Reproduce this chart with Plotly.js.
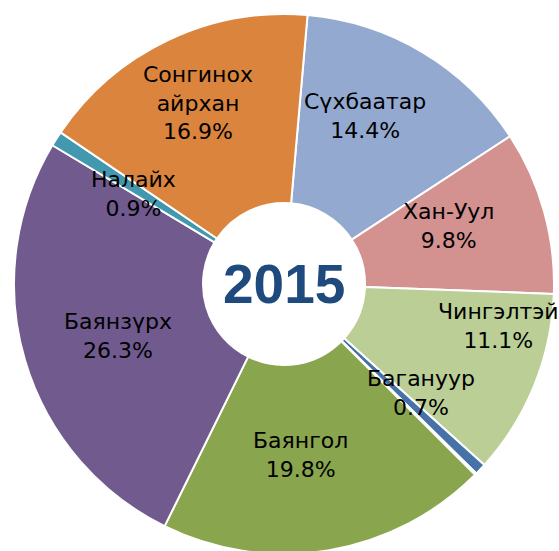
<!DOCTYPE html>
<html>
<head>
<meta charset="utf-8">
<script src="https://cdn.plot.ly/plotly-3.0.1.min.js"></script>
<style>
html, body { margin: 0; padding: 0; overflow: hidden; background: #ffffff; }
#chart { width: 559px; height: 556px; }
</style>
</head>
<body>
<div id="chart"></div>
<script>
// Districts of Ulaanbaatar, share in 2015 (%)
const labels = ["Сүхбаатар", "Хан-Уул", "Чингэлтэй", "Багануур", "Багахангай", "Баянгол", "Баянзүрх", "Налайх", "Сонгинох<br>айрхан"];
const values = [14.4, 9.8, 11.1, 0.7, 0.1, 19.8, 26.3, 0.9, 16.9];
const sliceColors = ["#94A9D0", "#D39190", "#BACE96", "#4672A8", "#C0504D", "#89A54E", "#705A8E", "#4198AF", "#DA843E"];
const centerLabel = "2015";

// label placement (style only): shown?, angular nudge from slice middle (deg), radius as fraction of pie radius
const labelShown  = [true, true, true, true, false, true, true, true, true];
const labelNudge  = [-5.0, -3.8, -11.0, -4.9, 0, 4.0, -1.1, -1.8, 0];
const labelRadius = [0.69, 0.645, 0.81, 0.65, 0.65, 0.636, 0.645, 0.65, 0.743];

const rotationDeg = 5;
const holeFrac = 0.3;
const W = 559, H = 556;
const M = {l: 14, r: 5, t: 14, b: 2};
const plotW = W - M.l - M.r, plotH = H - M.t - M.b;
const labelFont = {family: "DejaVu Sans, sans-serif", size: 22, color: "#000000"};

const total = values.reduce((a, b) => a + b, 0);

const annotations = [{
  text: "<b>" + centerLabel + "</b>",
  x: 0.5, y: 0.5, xref: "paper", yref: "paper",
  xanchor: "center", yanchor: "middle", showarrow: false,
  font: {family: "Liberation Sans, Arial, sans-serif", size: 55, color: "#1F4A7E"}
}];

let cum = 0;
const R = Math.min(plotW, plotH) / 2;
values.forEach((v, i) => {
  const mid = rotationDeg + 360 * (cum + v / 2) / total;
  cum += v;
  if (!labelShown[i]) return;
  const rr = labelRadius[i] * R;
  const a = (mid + labelNudge[i]) * Math.PI / 180;
  annotations.push({
    text: labels[i] + "<br>" + (v / total * 100).toFixed(1) + "%",
    x: 0.5 + rr * Math.sin(a) / plotW,
    y: 0.5 + rr * Math.cos(a) / plotH,
    xref: "paper", yref: "paper", xanchor: "center", yanchor: "middle",
    showarrow: false,
    font: labelFont
  });
});

const data = [{
  type: "pie",
  labels: labels,
  values: values,
  sort: false,
  direction: "clockwise",
  rotation: rotationDeg,
  hole: holeFrac,
  marker: {colors: sliceColors, line: {color: "#ffffff", width: 2}},
  textinfo: "none",
  showlegend: false,
  hoverinfo: "label+percent"
}];

const layout = {
  width: W, height: H,
  margin: M,
  paper_bgcolor: "#ffffff",
  showlegend: false,
  annotations: annotations
};

Plotly.newPlot("chart", data, layout, {displayModeBar: false, staticPlot: true});
</script>
</body>
</html>
